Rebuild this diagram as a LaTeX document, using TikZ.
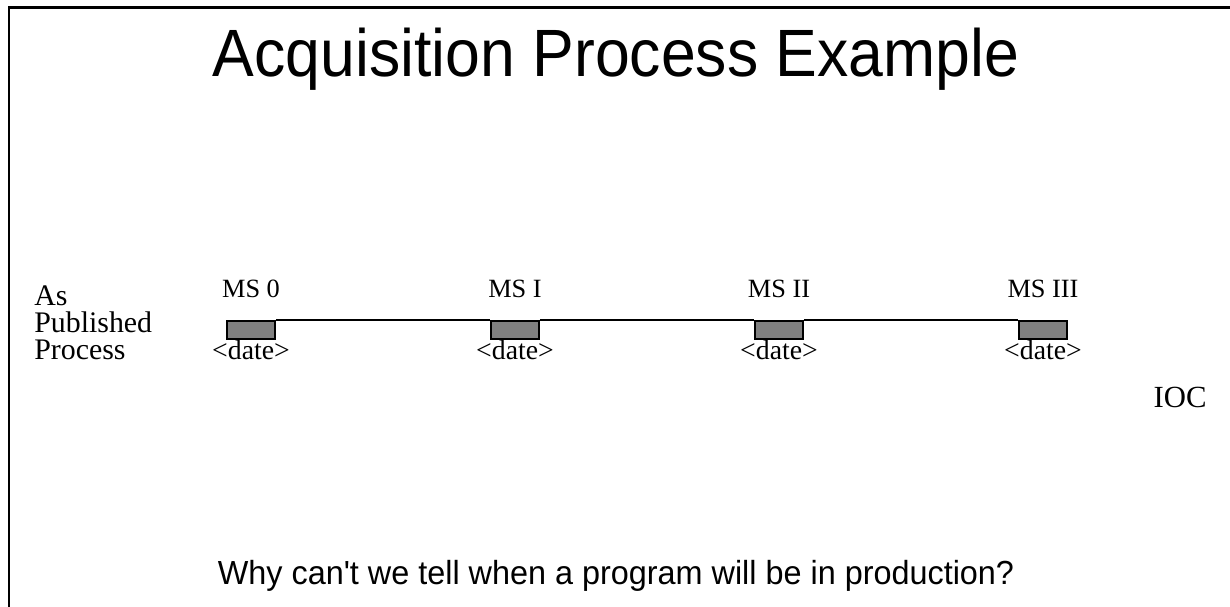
\documentclass[tikz,border=0pt]{standalone}
\usepackage{fontspec}
\setmainfont{Liberation Serif}
\newfontfamily\slidefont{Liberation Sans}
\usepackage{tikz}
\usetikzlibrary{positioning}
\usetikzlibrary{calc}

\tikzset{
	msbox/.style={draw, fill=gray, line width=1.1pt, minimum width=0.96cm, minimum height=0.36cm, inner sep=0pt},
	mslabel/.style={anchor=base, inner sep=0pt, font=\fontsize{15}{16}\selectfont},
	datelabel/.style={anchor=base, inner sep=0pt, font=\fontsize{15.8}{17}\selectfont},
}

\begin{document}
\begin{tikzpicture}[x=0.02cm, y=-0.02cm]

	% ------------------------------------------------
	% Ensure the dimensions of graphic are appropriate
	\useasboundingbox (0,0) rectangle (1230,607);

	% ------------------------------------------------
	% Slide frame
	\draw[line width=1.7pt] (1230,8) -- (9,8) -- (9,607);

	% ----------------
	% Titles
	\node[anchor=base, inner sep=0pt, font=\slidefont\fontsize{38.1}{40}\selectfont] (Title) at (616,77) {\scalebox{0.934}[1]{Acquisition Process Example}};
	\node[anchor=base, inner sep=0pt, font=\slidefont\fontsize{19}{21}\selectfont] (Question) at (616,584) {\scalebox{0.97}[1]{Why can't we tell when a program will be in production?}};

	% ------------------------------------------------
	% Relevant coordinates
	\coordinate (MS0) at (251,330);
	\path (MS0) +(264,0) coordinate (MS1);
	\path (MS1) +(264,0) coordinate (MS2);
	\path (MS2) +(264,0) coordinate (MS3);

	% ----------------
	% Milestone boxes
	\node[msbox] (Box0) at (MS0) {};
	\node[msbox] (Box1) at (MS1) {};
	\node[msbox] (Box2) at (MS2) {};
	\node[msbox] (Box3) at (MS3) {};

	\draw[line width=1.1pt] (Box0.north east) -- (Box1.north west);
	\draw[line width=1.1pt] (Box1.north east) -- (Box2.north west);
	\draw[line width=1.1pt] (Box2.north east) -- (Box3.north west);

	% ----------------
	% Milestone labels
	\path (MS0) +(0,-32) node[mslabel] (Label0) {MS 0};
	\path (MS1) +(0,-32) node[mslabel] (Label1) {MS I};
	\path (MS2) +(0,-32) node[mslabel] (Label2) {MS II};
	\path (MS3) +(0,-32) node[mslabel] (Label3) {MS III};

	\path (MS0) +(0,30) node[datelabel] (Date0) {<date>};
	\path (MS1) +(0,30) node[datelabel] (Date1) {<date>};
	\path (MS2) +(0,30) node[datelabel] (Date2) {<date>};
	\path (MS3) +(0,30) node[datelabel] (Date3) {<date>};

	% ----------------
	% Side labels
	\node[anchor=north west, inner sep=0pt, align=left, font=\fontsize{17}{15.5}\selectfont] (Published) at (34,285) {As\\Published\\Process};
	\node[anchor=base east, inner sep=0pt, font=\fontsize{17.5}{18}\selectfont] (IOC) at (1207,408) {IOC};

\end{tikzpicture}
\end{document}
